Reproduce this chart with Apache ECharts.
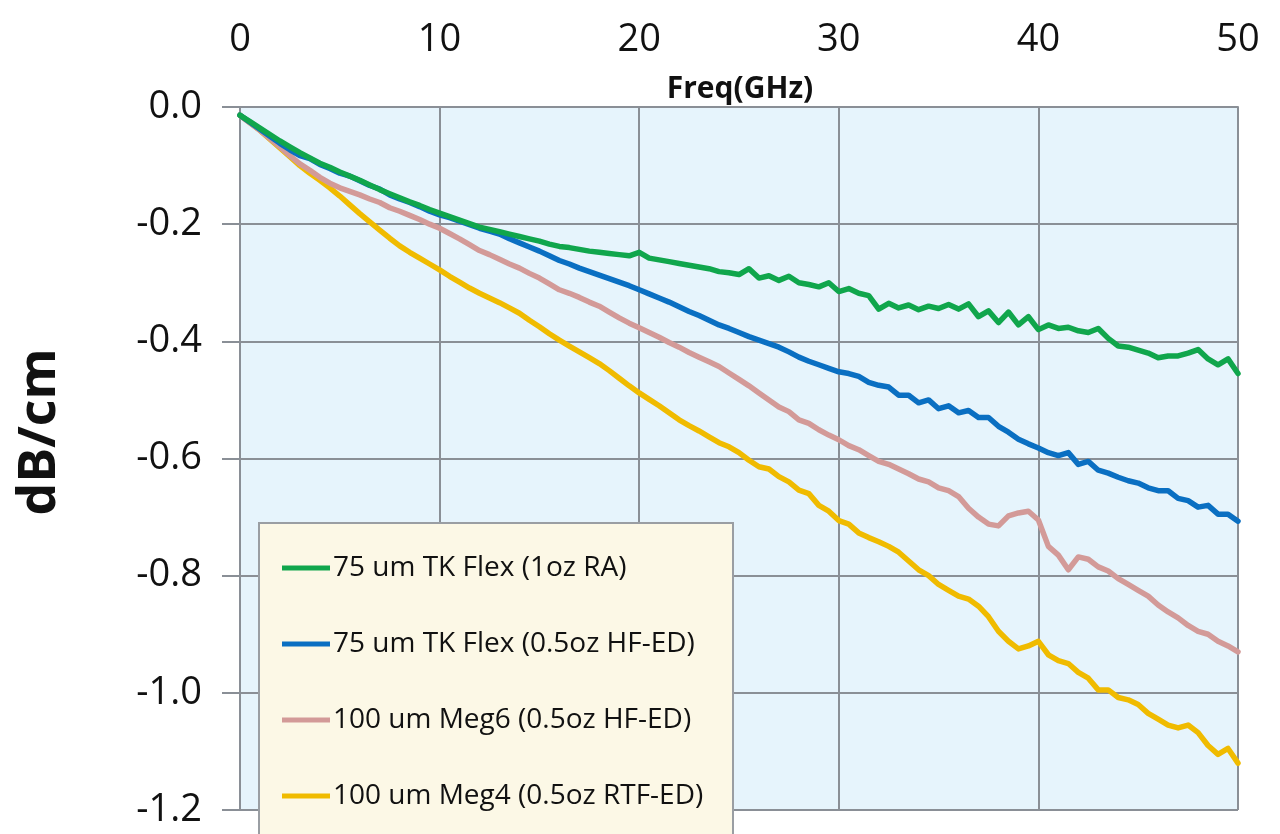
<!DOCTYPE html>
<html>
	<head>
		<meta charset="utf-8">
		<script src="https://cdn.jsdelivr.net/npm/echarts@6/dist/echarts.min.js"></script>
		<title>dB/cm vs Freq</title>
	</head>
	<body>
		<style>
			html,
			body,
			#main {
				width: 100%;
				height: 100%;
				margin: 0;
				background: #fff;
			}
		</style>
		<div id="main"></div>
		<script type="text/javascript">
			// 频率 (GHz)，每 0.5 GHz 一个点
			var freq = [
				0, 0.5, 1, 1.5, 2, 2.5, 3, 3.5, 4, 4.5, 5, 5.5, 6, 6.5, 7, 7.5, 8, 8.5, 9, 9.5,
				10, 10.5, 11, 11.5, 12, 12.5, 13, 13.5, 14, 14.5, 15, 15.5, 16, 16.5, 17, 17.5, 18, 18.5, 19, 19.5,
				20, 20.5, 21, 21.5, 22, 22.5, 23, 23.5, 24, 24.5, 25, 25.5, 26, 26.5, 27, 27.5, 28, 28.5, 29, 29.5,
				30, 30.5, 31, 31.5, 32, 32.5, 33, 33.5, 34, 34.5, 35, 35.5, 36, 36.5, 37, 37.5, 38, 38.5, 39, 39.5,
				40, 40.5, 41, 41.5, 42, 42.5, 43, 43.5, 44, 44.5, 45, 45.5, 46, 46.5, 47, 47.5, 48, 48.5, 49, 49.5,
				50
			];

			var names = [
				'75 um TK Flex (1oz RA)',
				'75 um TK Flex (0.5oz HF-ED)',
				'100 um Meg6 (0.5oz HF-ED)',
				'100 um Meg4 (0.5oz RTF-ED)'
			];

			var colors = ['#10a64c', '#0a6fc2', '#d39a98', '#f0bb00'];

			var yTicks = [0.0, -0.2, -0.4, -0.6, -0.8, -1.0, -1.2];
			var xTicks = [0, 10, 20, 30, 40, 50];

			var tkFlex1oz = [
				-0.014, -0.025, -0.036, -0.047, -0.058, -0.068, -0.078, -0.087, -0.096, -0.103,
				-0.111, -0.118, -0.125, -0.133, -0.141, -0.148, -0.155, -0.162, -0.168, -0.175,
				-0.181, -0.187, -0.193, -0.199, -0.205, -0.209, -0.213, -0.217, -0.221, -0.225,
				-0.229, -0.234, -0.238, -0.240, -0.243, -0.246, -0.248, -0.250, -0.252, -0.254,
				-0.248, -0.258, -0.261, -0.264, -0.267, -0.270, -0.273, -0.276, -0.281, -0.283,
				-0.286, -0.276, -0.292, -0.288, -0.296, -0.289, -0.300, -0.303, -0.307, -0.300,
				-0.315, -0.310, -0.318, -0.322, -0.345, -0.335, -0.343, -0.338, -0.346, -0.340,
				-0.344, -0.337, -0.345, -0.336, -0.358, -0.348, -0.368, -0.350, -0.372, -0.358,
				-0.380, -0.372, -0.378, -0.376, -0.382, -0.385, -0.378, -0.395, -0.408, -0.410,
				-0.415, -0.420, -0.428, -0.425, -0.425, -0.420, -0.414, -0.430, -0.440, -0.430,
				-0.455
			];

			var tkFlexHalfOz = [
				-0.014, -0.026, -0.038, -0.050, -0.062, -0.073, -0.083, -0.088, -0.098, -0.105,
				-0.113, -0.118, -0.126, -0.134, -0.140, -0.150, -0.157, -0.163, -0.170, -0.178,
				-0.184, -0.189, -0.195, -0.201, -0.207, -0.212, -0.217, -0.225, -0.232, -0.239,
				-0.246, -0.254, -0.262, -0.268, -0.275, -0.281, -0.287, -0.293, -0.299, -0.305,
				-0.312, -0.319, -0.326, -0.333, -0.341, -0.349, -0.356, -0.364, -0.372, -0.378,
				-0.385, -0.392, -0.398, -0.404, -0.410, -0.418, -0.427, -0.434, -0.440, -0.446,
				-0.452, -0.455, -0.460, -0.470, -0.475, -0.478, -0.492, -0.492, -0.505, -0.500,
				-0.515, -0.510, -0.522, -0.518, -0.530, -0.530, -0.545, -0.555, -0.567, -0.575,
				-0.582, -0.590, -0.595, -0.590, -0.610, -0.605, -0.620, -0.625, -0.632, -0.638,
				-0.642, -0.650, -0.655, -0.655, -0.668, -0.672, -0.683, -0.680, -0.695, -0.695,
				-0.707
			];

			var meg6 = [
				-0.014, -0.027, -0.040, -0.054, -0.068, -0.083, -0.097, -0.108, -0.120, -0.130,
				-0.138, -0.144, -0.150, -0.157, -0.163, -0.172, -0.178, -0.185, -0.192, -0.200,
				-0.207, -0.216, -0.225, -0.235, -0.245, -0.252, -0.260, -0.268, -0.275, -0.284,
				-0.292, -0.302, -0.312, -0.318, -0.325, -0.333, -0.340, -0.350, -0.360, -0.369,
				-0.377, -0.385, -0.393, -0.402, -0.410, -0.419, -0.427, -0.435, -0.443, -0.454,
				-0.465, -0.476, -0.488, -0.500, -0.512, -0.520, -0.534, -0.540, -0.551, -0.560,
				-0.568, -0.578, -0.585, -0.595, -0.605, -0.610, -0.618, -0.626, -0.635, -0.640,
				-0.650, -0.655, -0.665, -0.685, -0.700, -0.712, -0.715, -0.698, -0.693, -0.690,
				-0.705, -0.750, -0.765, -0.790, -0.768, -0.772, -0.785, -0.792, -0.805, -0.815,
				-0.825, -0.835, -0.850, -0.862, -0.872, -0.885, -0.895, -0.900, -0.912, -0.920,
				-0.930
			];

			var meg4 = [
				-0.014, -0.027, -0.040, -0.055, -0.070, -0.085, -0.100, -0.113, -0.125, -0.138,
				-0.152, -0.167, -0.182, -0.196, -0.210, -0.224, -0.237, -0.248, -0.258, -0.268,
				-0.278, -0.289, -0.299, -0.309, -0.318, -0.326, -0.334, -0.343, -0.352, -0.364,
				-0.375, -0.387, -0.398, -0.408, -0.418, -0.428, -0.438, -0.450, -0.463, -0.476,
				-0.488, -0.499, -0.510, -0.522, -0.534, -0.544, -0.553, -0.563, -0.573, -0.580,
				-0.590, -0.603, -0.614, -0.618, -0.631, -0.640, -0.654, -0.660, -0.680, -0.690,
				-0.706, -0.712, -0.727, -0.735, -0.742, -0.750, -0.760, -0.775, -0.790, -0.800,
				-0.815, -0.825, -0.835, -0.840, -0.852, -0.870, -0.895, -0.912, -0.925, -0.920,
				-0.912, -0.935, -0.945, -0.950, -0.965, -0.975, -0.995, -0.995, -1.008, -1.012,
				-1.020, -1.035, -1.045, -1.055, -1.060, -1.055, -1.068, -1.090, -1.105, -1.095,
				-1.120
			];

			var seriesValues = [tkFlex1oz, tkFlexHalfOz, meg6, meg4];

			var myChart = echarts.init(document.getElementById('main'));

			var series = [];
			for (var s = 0; s < seriesValues.length; s++) {
				var pts = [];
				for (var i = 0; i < freq.length; i++) {
					pts.push([freq[i], seriesValues[s][i]]);
				}
				series.push({
					name: names[s],
					type: 'line',
					data: pts,
					symbol: 'none',
					smooth: false,
					lineStyle: { width: 5.5, color: colors[s], join: 'round', cap: 'round' },
					itemStyle: { color: colors[s] },
					z: 3 + (3 - s)
				});
			}

			var fontFam = '"Open Sans", "Noto Sans", sans-serif';

			var option = {
				animation: false,
				backgroundColor: '#ffffff',
				color: colors,
				grid: {
					left: 240,
					right: 42,
					top: 107,
					bottom: 24,
					show: true,
					backgroundColor: '#e6f4fc',
					borderWidth: 0
				},
				// 图例底框 + 坐标轴名称
				graphic: [{
					type: 'rect',
					left: 258,
					top: 522,
					shape: { width: 474, height: 330 },
					style: { fill: '#fcf8e6', stroke: '#9a9ea3', lineWidth: 2 },
					z: 20
				}, {
					type: 'text',
					x: 740,
					y: 89,
					style: {
						text: 'Freq(GHz)',
						font: 'bold 30px "Open Sans", "Noto Sans", sans-serif',
						fill: '#111',
						align: 'center',
						verticalAlign: 'middle'
					},
					z: 20
				}, {
					type: 'text',
					x: 40,
					y: 432,
					rotation: Math.PI / 2,
					style: {
						text: 'dB/cm',
						font: 'bold 52px "Open Sans", "Noto Sans", sans-serif',
						fill: '#111',
						align: 'center',
						verticalAlign: 'middle'
					},
					z: 20
				}],
				xAxis: {
					type: 'value',
					position: 'top',
					min: xTicks[0],
					max: xTicks[xTicks.length - 1],
					interval: 10,
					axisLine: { show: true, lineStyle: { color: '#8a8f96', width: 2 } },
					axisTick: { show: false },
					axisLabel: {
						margin: 48,
						fontFamily: fontFam,
						fontSize: 38,
						color: '#111'
					},
					splitLine: { show: true, lineStyle: { color: '#8a8f96', width: 2 } }
				},
				yAxis: {
					type: 'value',
					min: yTicks[yTicks.length - 1],
					max: yTicks[0],
					interval: 0.2,
					axisLine: { show: true, lineStyle: { color: '#8a8f96', width: 2 } },
					axisTick: { show: true, inside: false, length: 18, lineStyle: { color: '#8a8f96', width: 2 } },
					axisLabel: {
						margin: 38,
						fontFamily: fontFam,
						fontSize: 38,
						color: '#111',
						formatter: function(v) {
							return (Math.abs(v) < 1e-9 ? 0 : v).toFixed(1);
						}
					},
					splitLine: { show: true, lineStyle: { color: '#8a8f96', width: 2 } }
				},
				legend: {
					data: names,
					orient: 'vertical',
					left: 258,
					top: 552,
					padding: [0, 0, 0, 24],
					itemGap: 44,
					itemWidth: 48,
					itemHeight: 5,
					icon: 'rect',
					z: 21,
					textStyle: {
						fontFamily: fontFam,
						fontSize: 28,
						lineHeight: 32,
						color: '#111',
						padding: [0, 0, 0, -2]
					}
				},
				series: series
			};

			myChart.setOption(option);

			//图表自适应
			window.onresize = function() {
				myChart.resize();
			}
		</script>
	</body>
</html>
